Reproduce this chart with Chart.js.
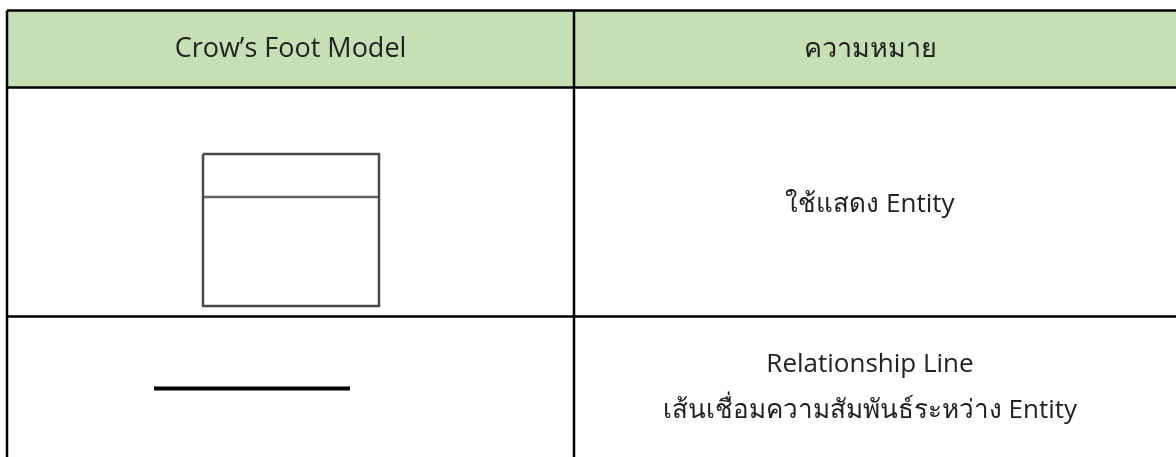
<!DOCTYPE html>
<html>
<head>
<meta charset="utf-8">
<script src="https://cdn.jsdelivr.net/npm/chart.js@4.4.1/dist/chart.umd.min.js"></script>
<style>
  html, body { margin: 0; padding: 0; background: #ffffff; }
  canvas { display: block; }
</style>
</head>
<body>
<canvas id="tableChart" width="1176" height="457"></canvas>
<script>
// table content
const headers = ['Crow\u2019s Foot Model', 'ความหมาย'];
const symbols = ['entity', 'relationship'];
const meanings = [
    ['ใช้แสดง Entity'],
    ['Relationship Line', 'เส้นเชื่อมความสัมพันธ์ระหว่าง Entity']
];

// grid in page units (the scales run 0..1176 and 0..457)
const colEdges = [7, 574, 1180];
const rowEdges = [10.5, 87.5, 316.5, 470];

const FONT = '"Open Sans", "Noto Sans", sans-serif';
const headerFill = '#c5e0b4';

const tablePlugin = {
    id: 'tablePlugin',
    beforeDatasetsDraw(chart) {
        const { ctx, scales: { x, y } } = chart;
        const px = v => x.getPixelForValue(v);
        const py = v => y.getPixelForValue(v);

        // header background
        ctx.save();
        ctx.fillStyle = headerFill;
        ctx.fillRect(px(colEdges[0]), py(rowEdges[0]), px(colEdges[2]) - px(colEdges[0]), py(rowEdges[1]) - py(rowEdges[0]));

        // grid lines
        ctx.strokeStyle = '#000000';
        ctx.lineWidth = 2.5;
        ctx.beginPath();
        rowEdges.forEach(r => {
            ctx.moveTo(px(colEdges[0]), py(r));
            ctx.lineTo(px(colEdges[2]), py(r));
        });
        colEdges.forEach(c => {
            ctx.moveTo(px(c), py(rowEdges[0]));
            ctx.lineTo(px(c), py(rowEdges[rowEdges.length - 1]));
        });
        ctx.stroke();

        // header text, the right column is centred as if it ended at 1166
        const centres = [(px(colEdges[0]) + px(colEdges[1])) / 2, (px(colEdges[1]) + px(1166)) / 2];
        ctx.fillStyle = '#222222';
        ctx.textAlign = 'center';
        ctx.textBaseline = 'alphabetic';
        ctx.font = '27px ' + FONT;
        headers.forEach((h, i) => ctx.fillText(h, centres[i], py(57)));

        // meaning text
        ctx.font = '26px ' + FONT;
        const baselines = [[212], [372, 418]];
        meanings.forEach((lines, r) => {
            lines.forEach((t, k) => ctx.fillText(t, centres[1], py(baselines[r][k])));
        });
        ctx.restore();
    }
};

// symbol shapes drawn as line datasets in page units
const entityBox = [
    { x: 203, y: 154 }, { x: 379, y: 154 }, { x: 379, y: 306 },
    { x: 203, y: 306 }, { x: 203, y: 154 }
];
const entityDivider = [{ x: 203, y: 197 }, { x: 379, y: 197 }];
const relationLine = [{ x: 154, y: 388.5 }, { x: 350, y: 388.5 }];

const ctx = document.getElementById('tableChart').getContext('2d');
new Chart(ctx, {
    type: 'scatter',
    data: {
        datasets: [
            { label: symbols[0], data: entityBox, showLine: true, borderColor: '#4a4a4a', borderWidth: 2.5, pointRadius: 0, fill: false, tension: 0 },
            { label: symbols[0] + ' divider', data: entityDivider, showLine: true, borderColor: '#666666', borderWidth: 2.5, pointRadius: 0, fill: false },
            { label: symbols[1], data: relationLine, showLine: true, borderColor: '#000000', borderWidth: 4, pointRadius: 0, fill: false }
        ]
    },
    options: {
        responsive: false,
        animation: false,
        devicePixelRatio: 1,
        layout: { padding: 0 },
        plugins: { legend: { display: false }, tooltip: { enabled: false } },
        scales: {
            x: { type: 'linear', min: 0, max: 1176, display: false },
            y: { type: 'linear', min: 0, max: 457, reverse: true, display: false }
        }
    },
    plugins: [tablePlugin]
});
</script>
</body>
</html>
